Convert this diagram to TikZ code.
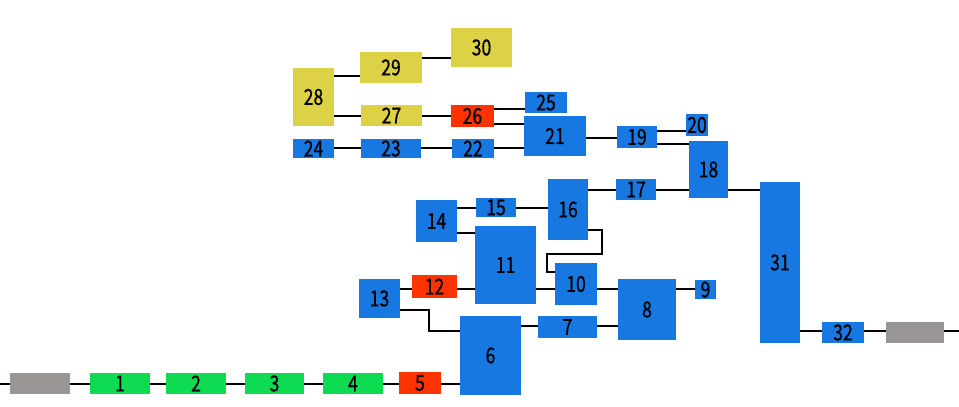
\documentclass[tikz,border=0pt]{standalone}
\usepackage{fontspec}
\newfontfamily\gothic[FakeStretch=0.8, FakeBold=0.6]{Noto Sans CJK JP}
\usetikzlibrary{positioning}

\definecolor{boxblue}{RGB}{24,120,226}
\definecolor{boxgreen}{RGB}{14,218,82}
\definecolor{boxred}{RGB}{255,51,0}
\definecolor{boxyellow}{RGB}{221,210,70}
\definecolor{boxgrey}{RGB}{153,149,148}

\begin{document}
\begin{tikzpicture}[x=1pt, y=-1pt,
  blk/.style={fill=#1, inner sep=0pt, font=\gothic\fontsize{22}{22}\selectfont},
  sz/.style 2 args={minimum width=#1pt, minimum height=#2pt},
  wire/.style={line width=1.3pt}]
\useasboundingbox (0,0) rectangle (959,407);

% The bottom chain
\coordinate (entry) at (0,384);
\node [blk=boxgrey, sz={60}{21}] (g0) at (40,383.5) {};
\node [blk=boxgreen, sz={60}{21}] (n1) at (120,383.5) {1};
\node [blk=boxgreen, sz={60}{21}] (n2) at (196,383.5) {2};
\node [blk=boxgreen, sz={59}{21}] (n3) at (274.5,383.5) {3};
\node [blk=boxgreen, sz={60}{21}] (n4) at (353,383.5) {4};
\node [blk=boxred, sz={42}{22}] (n5) at (420,383) {5};
\node [blk=boxblue, sz={61}{79}] (n6) at (490.5,355.5) {6};
\node [blk=boxblue, sz={59}{22}] (n7) at (567.5,327) {7};
\node [blk=boxblue, sz={58}{61}] (n8) at (647,309.5) {8};
\node [blk=boxblue, sz={21}{19}] (n9) at (705.5,289.5) {9};

% The middle blocks
\node [blk=boxblue, sz={42}{42}] (n10) at (576,284) {10};
\node [blk=boxblue, sz={61}{78}] (n11) at (505.5,265) {11};
\node [blk=boxred, sz={45}{23}] (n12) at (434.5,286.5) {12};
\node [blk=boxblue, sz={41}{39}] (n13) at (379.5,298.5) {13};
\node [blk=boxblue, sz={41}{42}] (n14) at (436.5,221) {14};
\node [blk=boxblue, sz={40}{19}] (n15) at (496,207.5) {15};
\node [blk=boxblue, sz={40}{61}] (n16) at (568,209.5) {16};
\node [blk=boxblue, sz={40}{21}] (n17) at (636,189.5) {17};
\node [blk=boxblue, sz={39}{57}] (n18) at (708.5,169.5) {18};
\node [blk=boxblue, sz={40}{22}] (n19) at (637,137) {19};
\node [blk=boxblue, sz={22}{22}] (n20) at (697,125) {20};

% The top blocks
\node [blk=boxblue, sz={62}{40}] (n21) at (555,136) {21};
\node [blk=boxblue, sz={42}{19}] (n22) at (473,148.5) {22};
\node [blk=boxblue, sz={60}{19}] (n23) at (391,148.5) {23};
\node [blk=boxblue, sz={41}{19}] (n24) at (313.5,148.5) {24};
\node [blk=boxblue, sz={42}{21}] (n25) at (546,102.5) {25};
\node [blk=boxred, sz={43}{22}] (n26) at (472.5,116) {26};
\node [blk=boxyellow, sz={61}{21}] (n27) at (391.5,115.5) {27};
\node [blk=boxyellow, sz={41}{58}] (n28) at (313.5,97) {28};
\node [blk=boxyellow, sz={62}{31}] (n29) at (391,67.5) {29};
\node [blk=boxyellow, sz={61}{39}] (n30) at (481.5,47.5) {30};

% The right blocks
\node [blk=boxblue, sz={40}{161}] (n31) at (780,262.5) {31};
\node [blk=boxblue, sz={42}{21}] (n32) at (843,332.5) {32};
\node [blk=boxgrey, sz={58}{21}] (g1) at (915,332.5) {};
\coordinate (exit) at (959,331);

% Bottom chain wires
\draw [wire] (entry) -- (g0.west |- entry);
\draw [wire] (g0.east |- entry) -- (n1.west |- entry);
\draw [wire] (n1.east |- entry) -- (n2.west |- entry);
\draw [wire] (n2.east |- entry) -- (n3.west |- entry);
\draw [wire] (n3.east |- entry) -- (n4.west |- entry);
\draw [wire] (n4.east |- entry) -- (n5.west |- entry);
\draw [wire] (n5.east |- entry) -- (n6.west |- entry);
\draw [wire] (n6.east |- 0,326) -- (n7.west |- 0,326);
\draw [wire] (n7.east |- 0,326) -- (n8.west |- 0,326);
\draw [wire] (n13.east |- 0,310) -| (429,331) -- (n6.west |- 0,331);

% Wires at the level of 12
\draw [wire] (n13.east |- 0,289) -- (n12.west |- 0,289);
\draw [wire] (n12.east |- 0,289) -- (n11.west |- 0,289);
\draw [wire] (n11.east |- 0,289) -- (n10.west |- 0,289);
\draw [wire] (n10.east |- 0,289) -- (n8.west |- 0,289);
\draw [wire] (n8.east |- 0,289) -- (n9.west |- 0,289);

% Middle wires
\draw [wire] (n14.east |- 0,208) -- (n15.west |- 0,208);
\draw [wire] (n15.east |- 0,208) -- (n16.west |- 0,208);
\draw [wire] (n14.east |- 0,233) -- (n11.west |- 0,233);
\draw [wire] (n16.east |- 0,230) -| (602,254) -| (547,272) -- (n10.west |- 0,272);
\draw [wire] (n16.east |- 0,190) -- (n17.west |- 0,190);
\draw [wire] (n17.east |- 0,190) -- (n18.west |- 0,190);
\draw [wire] (n18.east |- 0,190) -- (n31.west |- 0,190);
\draw [wire] (n21.east |- 0,138) -- (n19.west |- 0,138);
\draw [wire] (n19.east |- 0,131) -- (n20.west |- 0,131);
\draw [wire] (n19.east |- 0,144) -- (n18.west |- 0,144);

% Top wires
\draw [wire] (n28.east |- 0,76) -- (n29.west |- 0,76);
\draw [wire] (n29.east |- 0,58) -- (n30.west |- 0,58);
\draw [wire] (n28.east |- 0,116) -- (n27.west |- 0,116);
\draw [wire] (n27.east |- 0,116) -- (n26.west |- 0,116);
\draw [wire] (n26.east |- 0,109) -- (n25.west |- 0,109);
\draw [wire] (n26.east |- 0,124) -- (n21.west |- 0,124);
\draw [wire] (n24.east |- 0,148) -- (n23.west |- 0,148);
\draw [wire] (n23.east |- 0,148) -- (n22.west |- 0,148);
\draw [wire] (n22.east |- 0,148) -- (n21.west |- 0,148);

% Right wires
\draw [wire] (n31.east |- exit) -- (n32.west |- exit);
\draw [wire] (n32.east |- exit) -- (g1.west |- exit);
\draw [wire] (g1.east |- exit) -- (exit);

\end{tikzpicture}
\end{document}
